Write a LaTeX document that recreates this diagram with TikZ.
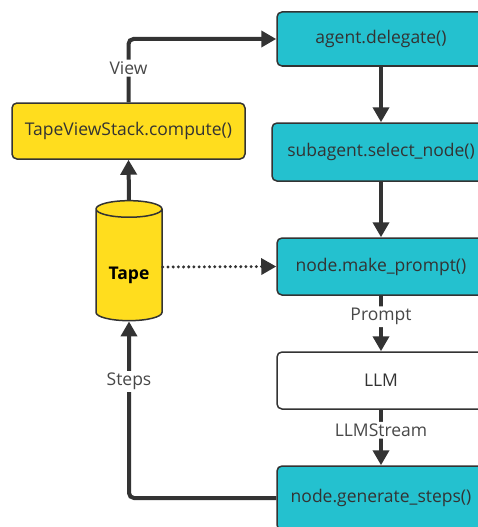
\documentclass[tikz,border=0pt]{standalone}
\usepackage{fontspec}
\setmainfont{Open Sans}
\definecolor{callcyan}{RGB}{36, 193, 207}
\definecolor{tapeyellow}{RGB}{255, 221, 30}
\definecolor{inkgray}{RGB}{51, 51, 51}
\definecolor{labelgray}{RGB}{72, 72, 72}
\usetikzlibrary{shapes.geometric, arrows.meta}
\tikzset{
    every node/.style={font=\fontsize{17.5}{20}\selectfont, text=inkgray},
    callbox/.style={draw=inkgray, line width=1.5pt, rounded corners=5pt,
        fill=callcyan, minimum width=208pt, minimum height=57pt},
    tapestore/.style={cylinder, shape border rotate=90, aspect=0.35,
        draw=inkgray, line width=1.5pt, fill=tapeyellow,
        minimum width=66pt, minimum height=120pt},
    flow/.style={draw=inkgray, line width=4pt, rounded corners=5pt,
        -{Triangle[length=15pt, width=16pt]}},
    flowlabel/.style={fill=white, text=labelgray, inner sep=2pt},
}

\begin{document}
\begin{tikzpicture}[x=1pt, y=-1pt]
    \useasboundingbox (0, 0) rectangle (478, 527);
    \clip (0, 0) rectangle (478, 527);
    \node[callbox, fill=tapeyellow, minimum width=233pt, minimum height=56pt]
        (viewstack) at (128.5, 131) {TapeViewStack.compute()};
    \node[tapestore] (tape) at (129, 267)
        {\raisebox{-12pt}[0pt][0pt]{\bfseries\textcolor{black}{Tape}}};
    \node[callbox, minimum height=54pt] (delegate) at (381, 39) {agent.delegate()};
    \node[callbox, minimum width=218pt, minimum height=58pt]
        (select) at (381, 152) {subagent.select\_node()};
    \node[callbox] (prompt) at (381, 266.5) {node.make\_prompt()};
    \node[callbox, fill=white] (llm) at (381, 380.5) {LLM};
    \node[callbox, minimum height=64pt] (generate) at (381, 498)
        {node.generate\_steps()};
    % connectors
    \draw[flow] (viewstack.north) |- node[flowlabel, pos=.27] {View} (delegate.west);
    \draw[flow] (tape.north) -- (viewstack.south);
    \foreach \from/\to in {delegate/select, select/prompt}{
        \draw[flow] (\from.south) -- (\to.north);
    }
    \draw[flow] (prompt.south) -- node[flowlabel, pos=.38] {Prompt} (llm.north);
    \draw[flow] (llm.south) -- node[flowlabel, pos=.37] {LLMStream} (generate.north);
    \draw[flow] (generate.west) -| node[flowlabel, pos=.83] {Steps} (tape.south);
    \draw[flow, line width=3.3pt, rounded corners=0pt, line cap=round,
        dash pattern=on 0pt off 5.2pt] (tape.east) -- (prompt.west);
\end{tikzpicture}
\end{document}
